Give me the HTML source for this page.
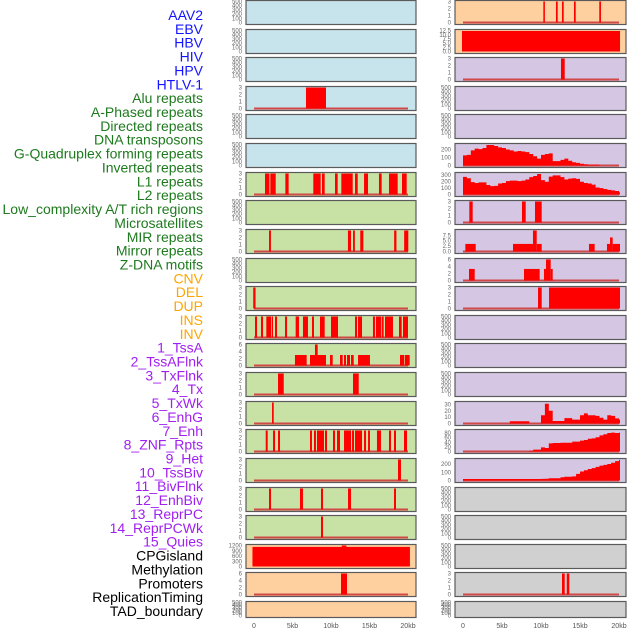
<!DOCTYPE html>
<html><head><meta charset="utf-8">
<style>
html,body{margin:0;padding:0;background:#fff;width:630px;height:630px;overflow:hidden}
svg{display:block}
.lbl{font-family:"Liberation Sans",sans-serif;font-size:14px;text-anchor:end}
.tk{font-family:"Liberation Sans",sans-serif;font-size:6px;fill:#666;text-anchor:end}
.xt{font-family:"Liberation Sans",sans-serif;font-size:7px;fill:#555;text-anchor:middle}
</style></head>
<body>
<svg id="chart" width="630" height="630" xmlns="http://www.w3.org/2000/svg"></svg>
<script>
// ---- track labels ----
const labelNames = ["AAV2","EBV","HBV","HIV","HPV","HTLV-1","Alu repeats","A-Phased repeats","Directed repeats","DNA transposons","G-Quadruplex forming repeats","Inverted repeats","L1 repeats","L2 repeats","Low_complexity A/T rich regions","Microsatellites","MIR repeats","Mirror repeats","Z-DNA motifs","CNV","DEL","DUP","INS","INV","1_TssA","2_TssAFlnk","3_TxFlnk","4_Tx","5_TxWk","6_EnhG","7_Enh","8_ZNF_Rpts","9_Het","10_TssBiv","11_BivFlnk","12_EnhBiv","13_ReprPC","14_ReprPCWk","15_Quies","CPGisland","Methylation","Promoters","ReplicationTiming","TAD_boundary"];
const labelGroups = [0,0,0,0,0,0,1,1,1,1,1,1,1,1,1,1,1,1,1,2,2,2,2,2,3,3,3,3,3,3,3,3,3,3,3,3,3,3,3,4,4,4,4,4];
const groupColors = ["#1414ff","#1e7a1e","#ffa500","#a020f0","#000000"];

// ---- axis ticks ----
const xTicksKb = [0,5,10,15,20];
const xTickLabels = ["0","5kb","10kb","15kb","20kb"];
const ticks500 = [0,100,200,300,400,500];
const ticks3 = [0,1,2,3];
const ticks6 = [0,2,4,6];
const ticksCpg = [0,300,600,900,1200];
const ticksEbv = [0,2.5,5,7.5,10,12.5];
const ticksEbvLabels = ["0.0","2.5","5.0","7.5","10.0","12.5"];
const ticksMir2 = [0,2.5,5,7.5];
const ticksMir2Labels = ["0.0","2.5","5.0","7.5"];

// ---- bar data: [startKb, endKb, value] ----
const aluBars = [[6.75,9.35,3]];
const l1Bars = [[1.43,2.0,3],[2.12,2.82,3],[4.07,4.5,3],[7.7,8.66,3],[8.83,9.18,3],[10.52,10.87,3],[11.34,12.82,3],[13.12,13.47,3],[14.29,14.81,3],[16.23,16.58,3],[17.53,18.66,3],[19.22,19.83,3]];
const lowBars = [[1.95,2.2,3],[12.2,12.6,3],[12.86,13.1,3],[13.8,14.2,3],[18.2,18.5,3],[19.5,20.04,3]];
const mirBars = [[-0.1,0.2,3]];
const zdnaBars = [[0.13,0.39,3],[0.91,1.17,3],[1.6,2.21,3],[2.3,2.47,3],[2.73,2.99,3],[4.03,4.29,3],[5.41,5.84,3],[6.36,7.01,3],[7.53,7.79,3],[8.57,9.18,3],[10,10.91,3],[13.12,13.38,3],[13.51,14.03,3],[15.45,15.71,3],[15.84,16.49,3],[16.58,16.84,3],[17.01,18.05,3],[18.83,19.18,3],[19.35,20.0,3]];
const delBars = [[5.32,6.84,3],[7.27,9.35,3],[7.92,8.27,6],[9.87,10.22,3],[11.17,11.52,3],[11.69,11.95,3],[12.08,12.47,3],[12.6,12.95,3],[13.51,15.06,3],[18.96,19.48,3],[19.57,20.22,3]];
const dupBars = [[3.12,3.86,3],[12.86,13.6,3]];
const insBars = [[2.34,2.56,3]];
const invBars = [[1.52,1.78,3],[2.47,2.73,3],[3.12,3.38,3],[7.27,7.53,3],[7.79,8.05,3],[8.18,9.09,3],[9.22,9.48,3],[10.26,10.52,3],[10.78,11.17,3],[11.69,12.6,3],[12.73,12.99,3],[13.12,14.03,3],[14.29,14.55,3],[14.81,15.06,3],[15.97,16.49,3],[17.53,17.79,3],[18.18,18.44,3],[19.48,19.87,3]];
const tssaBars = [[18.7,19.09,3]];
const tssflnkBars = [[1.95,2.21,3],[5.97,6.36,3],[8.7,8.96,3],[12.21,12.6,3],[18.18,18.44,3]];
const txflnkBars = [[8.7,8.96,3]];
const cpgBars = [[-0.2,20.25,1120],[11.4,12.0,1200]];
const promBars = [[11.3,12.08,6]];

const aav2Bars = [[10.3,10.5,3],[11.92,12.14,3],[12.69,12.91,3],[14.23,14.45,3],[17.47,17.69,3]];
const ebvBars = [[-0.13,20.13,12.3]];
const hbvBars = [[12.56,13.04,3]];
const c2r7Bars = [[0.81,1.24,3],[7.56,8.04,3],[9.23,10.09,3]];
const c2r8Bars = [[0.3,1.63,3.5],[6.41,8.97,3.5],[8.97,9.45,9.7],[9.45,10.09,3.5],[16.15,16.88,3.5],[18.46,18.85,3.5],[18.85,19.19,6.5],[19.19,20.13,3.5]];
const c2r9Bars = [[0.77,1.5,3.3],[7.82,9.83,3.3],[10.38,10.64,3.3],[10.64,11.24,6],[11.24,11.5,3.3]];
const c2r10Bars = [[9.62,10.09,3],[11.03,20.13,3]];
const prom2Bars = [[12.69,13.04,3],[13.3,13.63,3]];

// ---- histogram data (0.5 kb bins from 0 kb) ----
const gquadHist = [126,133,189,211,204,219,255,255,244,226,219,200,189,174,181,174,167,144,115,85,133,144,152,55,55,70,85,60,40,33,22,15,11,11,11];
const l1Hist = [269,247,189,176,185,185,145,128,132,167,176,203,211,211,203,211,229,264,282,313,220,194,273,291,291,264,229,242,247,238,194,176,167,150,106,97,84,70,62,53,35];
const enhHist = [0,0,0,0,0,0,0,0,0,0,0,0,3.5,3.5,3.5,3.5,3.5,0,0,0,13,31,20,4,4,4,8.5,8.5,6,6,13,16,13,13,12,9,6,13,12,8,6];
const znfHist = [0,0,0,0,0,0,0,0,0,0,0,0,0,0,0,0,0,4,8,8,18,15,35,37,37,38,38,38,43,43,47,50,55,57,62,70,75,80,82,80,82];
const hetHist = [18,18,18,18,18,18,18,18,18,18,18,18,18,18,18,18,18,18,18,18,20,22,28,28,28,40,45,45,50,80,110,125,140,150,165,180,190,200,215,235,250];

// ---- layout ----
const svg = document.getElementById('chart');
const NS = 'http://www.w3.org/2000/svg';
const colX = [{l:246,r:416,x0:254,k:7.7},{l:455,r:626,x0:463,k:7.8}];
const blue="#c7e3eb", green="#c8e2a5", peach="#ffd09f", lav="#d5c6e3", gray="#d0d0d0";

function E(tag, attrs, parent){const e=document.createElementNS(NS,tag);for(const k in attrs)e.setAttribute(k,attrs[k]);(parent||svg).appendChild(e);return e;}

// rows: [col1 spec, col2 spec]; spec: {bg, ticks, tl, ymax, bars, hist, name}
const E500 = {ticks:ticks500, ymax:500};
const rows = [
 [{bg:blue,...E500,name:"aav2-track"},{bg:peach,ticks:ticks3,ymax:3,bars:aav2Bars,name:"aav2-track-2"}],
 [{bg:blue,...E500,name:"ebv-track"},{bg:peach,ticks:ticksEbv,tl:ticksEbvLabels,ymax:12.6,bars:ebvBars,nobase:true,name:"ebv-track-2"}],
 [{bg:blue,...E500,name:"hbv-track"},{bg:lav,ticks:ticks3,ymax:3,bars:hbvBars,name:"hbv-track-2"}],
 [{bg:blue,ticks:ticks3,ymax:3,bars:aluBars,name:"alu-track"},{bg:lav,...E500,name:"hiv-track-2"}],
 [{bg:blue,...E500,name:"hpv-track"},{bg:lav,...E500,name:"hpv-track-2"}],
 [{bg:blue,...E500,name:"gquad-track"},{bg:lav,ticks:[0,100,200],ymax:262,hist:gquadHist,name:"gquad-track-2"}],
 [{bg:green,ticks:ticks3,ymax:3,bars:l1Bars,name:"l1-track"},{bg:lav,ticks:[0,100,200,300],ymax:320,hist:l1Hist,name:"l1-track-2"}],
 [{bg:green,...E500,name:"l2-track"},{bg:lav,ticks:ticks3,ymax:3,bars:c2r7Bars,name:"l2-track-2"}],
 [{bg:green,ticks:ticks3,ymax:3,bars:lowBars,name:"lowcomplex-track"},{bg:lav,ticks:ticksMir2,tl:ticksMir2Labels,ymax:9.7,bars:c2r8Bars,name:"lowcomplex-track-2"}],
 [{bg:green,...E500,name:"micro-track"},{bg:lav,ticks:ticks6,ymax:6,bars:c2r9Bars,name:"micro-track-2"}],
 [{bg:green,ticks:ticks3,ymax:3,bars:mirBars,name:"mir-track"},{bg:lav,ticks:ticks3,ymax:3,bars:c2r10Bars,name:"mir-track-2"}],
 [{bg:green,ticks:ticks3,ymax:3,bars:zdnaBars,name:"zdna-track"},{bg:lav,...E500,name:"zdna-track-2"}],
 [{bg:green,ticks:ticks6,ymax:6,bars:delBars,name:"del-track"},{bg:lav,...E500,name:"del-track-2"}],
 [{bg:green,ticks:ticks3,ymax:3,bars:dupBars,name:"dup-track"},{bg:lav,...E500,name:"dup-track-2"}],
 [{bg:green,ticks:ticks3,ymax:3,bars:insBars,name:"ins-track"},{bg:lav,ticks:[0,10,20,30],ymax:33,hist:enhHist,name:"enh-track-2"}],
 [{bg:green,ticks:ticks3,ymax:3,bars:invBars,name:"inv-track"},{bg:lav,ticks:[0,20,40,60,80],ymax:91,hist:znfHist,name:"znf-track-2"}],
 [{bg:green,ticks:ticks3,ymax:3,bars:tssaBars,name:"tssa-track"},{bg:lav,ticks:[0,100,200],ymax:255,hist:hetHist,name:"het-track-2"}],
 [{bg:green,ticks:ticks3,ymax:3,bars:tssflnkBars,name:"tssaflnk-track"},{bg:gray,...E500,name:"bivflnk-track-2"}],
 [{bg:green,ticks:ticks3,ymax:3,bars:txflnkBars,name:"txflnk-track"},{bg:gray,...E500,name:"reprpc-track-2"}],
 [{bg:peach,ticks:ticksCpg,ymax:1200,bars:cpgBars,nobase:true,name:"cpgisland-track"},{bg:gray,...E500,name:"cpgisland-track-2"}],
 [{bg:peach,ticks:ticks6,ymax:6,bars:promBars,name:"promoters-track"},{bg:gray,ticks:ticks3,ymax:3,bars:prom2Bars,name:"promoters-track-2"}],
 [{bg:peach,...E500,name:"tad-track"},{bg:gray,...E500,name:"tad-track-2"}]
];

// labels
labelNames.forEach((t,i)=>{
  const e=E('text',{x:203,y:15+i*13.86+5,'class':'lbl',fill:groupColors[labelGroups[i]]});
  
  
  e.textContent=t;
});

rows.forEach((row,ri)=>{
  const top = Math.round(ri*28.62)+0.5;
  const h = ri===21 ? 16 : 24;
  row.forEach((p,ci)=>{
    const c=colX[ci];
    const g=E('g',{});
    
    
    const yb = top+h-2, yt = top+1;
    const ys = v => yb - (v/p.ymax)*(yb-yt);
    const xs = kb => c.x0 + kb*c.k;
    const bg=E('rect',{x:c.l,y:top,width:c.r-c.l,height:h,fill:p.bg,stroke:'none'},g);
    
    
    if(!p.nobase && (p.bars||p.hist)){
      const bl=E('line',{x1:xs(0),x2:xs(20),y1:yb,y2:yb,stroke:'#d04848','stroke-width':2},g);
      
      
    }
    (p.bars||[]).forEach(b=>{
      const x1=Math.max(xs(b[0]),c.l+1), x2=Math.min(xs(b[1]),c.r-1);
      const r=E('rect',{x:x1,y:ys(b[2]),width:Math.max(x2-x1,1),height:yb-ys(b[2]),fill:'#ff0000'},g);
      
      
    });
    if(p.hist){
      let d='M'+xs(0)+','+yb;
      p.hist.forEach((v,i)=>{d+=' L'+xs(i*0.5)+','+ys(v)+' L'+Math.min(xs(i*0.5+0.5),c.r-6)+','+ys(v);});
      d+=' L'+Math.min(xs(p.hist.length*0.5),c.r-6)+','+yb+' Z';
      const a=E('path',{d:d,fill:'#ff0000'},g);
      
      
    }
    const br=E('rect',{x:c.l,y:top,width:c.r-c.l,height:h,fill:'none',stroke:'#5a5a5a','stroke-width':1.2},g);
    
    
    p.ticks.forEach((t,ti)=>{
      const tx=E('text',{x:c.l-4,y:ys(t)+2,'class':'tk'},g);
      
      
      tx.textContent = p.tl ? p.tl[ti] : String(t);
    });
  });
});

// x axes
colX.forEach(c=>{
  xTicksKb.forEach((k,i)=>{
    const t=E('text',{x:c.x0+k*c.k,y:628,'class':'xt'});
    
    
    t.textContent=xTickLabels[i];
  });
});
</script>
</body></html>
